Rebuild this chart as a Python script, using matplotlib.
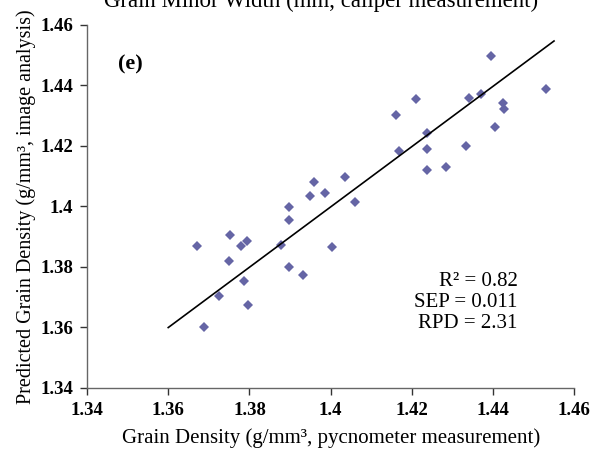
import matplotlib
matplotlib.use("Agg")
import matplotlib.pyplot as plt

plt.rcParams['font.family'] = ['Liberation Serif', 'DejaVu Serif']

# medido con picnometro (x) vs predicho por analisis de imagen (y)
densidad_pic = [1.3898, 1.3898, 1.3960, 1.3948, 1.3986, 1.4035, 1.4061, 1.4161, 1.4209,
                1.4168, 1.4236, 1.4236, 1.4238, 1.4283, 1.4333, 1.4340, 1.4370, 1.4394,
                1.4425, 1.4426, 1.4405, 1.4530, 1.3670, 1.3753, 1.3779, 1.3795, 1.3750,
                1.3878, 1.4003, 1.3898, 1.3933, 1.3786, 1.3724, 1.3797, 1.3689]
densidad_pred = [1.3999, 1.3955, 1.4081, 1.4034, 1.4044, 1.4097, 1.4015, 1.4302, 1.4355,
                 1.4183, 1.4244, 1.4191, 1.4120, 1.4129, 1.4199, 1.4358, 1.4372, 1.4498,
                 1.4342, 1.4323, 1.4264, 1.4388, 1.3870, 1.3905, 1.3868, 1.3885, 1.3819,
                 1.3871, 1.3865, 1.3798, 1.3773, 1.3752, 1.3704, 1.3673, 1.3602]

linea_x = [1.36, 1.455]
linea_y = [1.3599, 1.4547]

ticks = [1.34, 1.36, 1.38, 1.40, 1.42, 1.44, 1.46]
etiquetas = ["1.34", "1.36", "1.38", "1.4", "1.42", "1.44", "1.46"]

fig = plt.figure(figsize=(5.98, 4.55), dpi=100)
ax = fig.add_axes([0.1455, 0.1479, 0.8149, 0.7972])

ax.plot(densidad_pic, densidad_pred, linestyle="none", marker="D", markersize=5,
        color="#6565A5", markeredgewidth=0)
ax.plot(linea_x, linea_y, color="black", linewidth=1.2)

ax.set_xlim(1.34, 1.46)
ax.set_ylim(1.34, 1.46)
ax.set_xticks(ticks)
ax.set_xticklabels(etiquetas, fontweight="bold", fontsize=13.5)
ax.set_yticks(ticks)
ax.set_yticklabels(etiquetas, fontweight="bold", fontsize=13.5)
ax.tick_params(direction="out", length=5, width=1, colors="#333333", labelcolor="black", pad=5)

for lado in ["top", "right"]:
    ax.spines[lado].set_visible(False)
for lado in ["left", "bottom"]:
    ax.spines[lado].set_color("#666666")
    ax.spines[lado].set_linewidth(1)

ax.set_xlabel("Grain Density (g/mm\u00b3, pycnometer measurement)", fontsize=15, labelpad=7)
ax.set_ylabel("Predicted Grain Density (g/mm\u00b3, image analysis)", fontsize=14.5, labelpad=3)

ax.text(0.064, 0.878, "(e)", transform=ax.transAxes, fontsize=16, fontweight="bold")
ax.text(0.884, 0.152, "R\u00b2 = 0.82\nSEP = 0.011\nRPD = 2.31", transform=ax.transAxes,
        fontsize=15, ha="right", va="bottom", multialignment="right", linespacing=1.12)

# titulo del panel anterior, cortado arriba
fig.text(0.537, 0.9846, "Grain Minor Width (mm, caliper measurement)", fontsize=16.5,
         ha="center", va="baseline")

fig.savefig("out.png", dpi=100)
